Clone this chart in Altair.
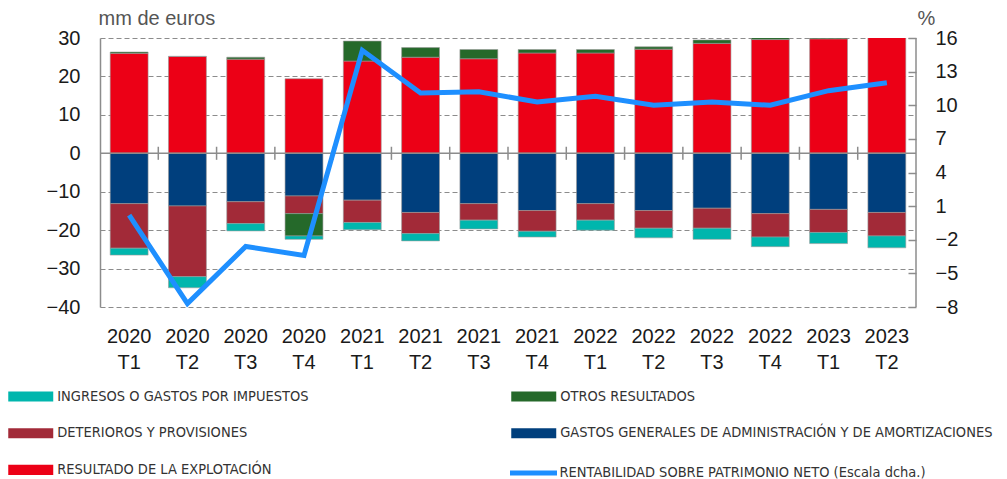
import altair as alt
import pandas as pd

categorias = ["2020 T1", "2020 T2", "2020 T3", "2020 T4",
              "2021 T1", "2021 T2", "2021 T3", "2021 T4",
              "2022 T1", "2022 T2", "2022 T3", "2022 T4",
              "2023 T1", "2023 T2"]

resultado = [26.0, 25.2, 24.5, 19.4, 24.0, 25.0, 24.6, 26.1, 26.1, 27.1, 28.6, 29.6, 29.8, 31.0]
otros = [0.35, 0.0, 0.5, -5.8, 5.2, 2.5, 2.4, 0.9, 0.9, 0.6, 0.9, 0.5, 0.3, 0.0]
gastos = [-13.1, -13.7, -12.6, -11.1, -12.2, -15.4, -13.1, -14.9, -13.1, -14.9, -14.3, -15.7, -14.6, -15.4]
deterioros = [-11.6, -18.4, -5.7, -4.6, -5.8, -5.5, -4.3, -5.4, -4.3, -4.6, -5.2, -6.1, -6.0, -6.1]
impuestos = [-1.8, -2.9, -1.9, -0.9, -1.9, -1.9, -2.3, -1.5, -2.6, -2.5, -2.9, -2.5, -2.9, -3.1]
rentabilidad = [0.2, -7.7, -2.6, -3.4, 14.9, 11.1, 11.2, 10.3, 10.8, 10.0, 10.3, 10.0, 11.3, 12.0]

S_IMP = "INGRESOS O GASTOS POR IMPUESTOS"
S_OTR = "OTROS RESULTADOS"
S_DET = "DETERIOROS Y PROVISIONES"
S_GAS = "GASTOS GENERALES DE ADMINISTRACIÓN Y DE AMORTIZACIONES"
S_RES = "RESULTADO DE LA EXPLOTACIÓN"
S_ROE = "RENTABILIDAD SOBRE PATRIMONIO NETO (Escala dcha.)"

left_ticks = [-40, -30, -20, -10, 0, 10, 20, 30]
right_ticks = [-8, -5, -2, 1, 4, 7, 10, 13, 16]

series = [(S_RES, resultado, 0), (S_GAS, gastos, 1), (S_DET, deterioros, 2),
          (S_OTR, otros, 3), (S_IMP, impuestos, 4)]
rows = []
for name, vals, orden in series:
    for c, v in zip(categorias, vals):
        rows.append({"cat": c, "serie": name, "valor": v, "orden": orden})
bars_df = pd.DataFrame(rows)

line_df = pd.DataFrame({"cat": categorias, "roe": rentabilidad, "serie": S_ROE})

FONT = "Liberation Sans"
NARROW = "Liberation Sans Narrow, DejaVu Sans Condensed, sans-serif"
GRAY = "#8c8c8c"

x_scale = alt.Scale(paddingInner=0.35, paddingOuter=0.175)
x_axis = alt.Axis(title=None, labelAngle=0, domain=False, ticks=False, grid=False,
                  labelExpr="split(datum.label, ' ')", labelFont=FONT, labelFontSize=20,
                  labelColor="#1a1a1a", labelLineHeight=26, labelPadding=19,
                  labelBaseline="top")

y_scale = alt.Scale(domain=[-40, 30], nice=False, zero=False)
y_axis = alt.Axis(values=left_ticks, title="mm de euros", titleAngle=0, titleAlign="left",
                  titleBaseline="middle", titleX=-2, titleY=-20, titleFont=FONT,
                  titleFontSize=20, titleFontWeight="normal", titleColor="#555555",
                  labelFont=FONT, labelFontSize=20, labelColor="#1a1a1a", labelPadding=20,
                  ticks=False, domainColor=GRAY, domainWidth=1.5,
                  grid=True, gridColor=GRAY, gridDash=[5, 3], gridWidth=1)

bars = alt.Chart(bars_df).mark_bar(clip=True, stroke="#9a9a9a", strokeWidth=0.6).encode(
    x=alt.X("cat:N", sort=categorias, scale=x_scale, axis=x_axis),
    y=alt.Y("valor:Q", stack="zero", scale=y_scale, axis=y_axis),
    color=alt.Color("serie:N",
                    scale=alt.Scale(domain=[S_IMP, S_DET, S_RES, S_OTR, S_GAS],
                                    range=["#00B6AD", "#A22A38", "#EC0016", "#25692A", "#003F7D"]),
                    legend=alt.Legend(title=None, orient="none", legendX=-80.75, legendY=347,
                                      columns=2, symbolType="M-2,-0.45H2V0.45H-2Z",
                                      symbolSize=506, symbolStrokeWidth=0,
                                      labelOffset=15, labelFont=NARROW, labelFontSize=14.5,
                                      labelColor="#333333", labelLimit=700,
                                      columnPadding=202, rowPadding=18.7)),
    order=alt.Order("orden:Q"),
)

zero_df = pd.DataFrame({"valor": [0]})
zero_rule = alt.Chart(zero_df).mark_rule(color=GRAY, strokeWidth=1.5).encode(
    y=alt.Y("valor:Q", scale=y_scale, axis=y_axis)
)

ticks_df = pd.DataFrame({"cat": categorias[1:], "valor": -1.7, "hi": 1.7})
tick_rules = alt.Chart(ticks_df).mark_rule(color=GRAY, strokeWidth=1.5, xOffset=-10.2).encode(
    x=alt.X("cat:N", sort=categorias, scale=x_scale, axis=x_axis, bandPosition=0),
    y=alt.Y("valor:Q", scale=y_scale, axis=y_axis),
    y2="hi:Q",
)

border_df = pd.DataFrame({"cat": [categorias[-1]], "valor": [-40], "hi": [30]})
border = alt.Chart(border_df).mark_rule(color=GRAY, strokeWidth=1.5, xOffset=10.2).encode(
    x=alt.X("cat:N", sort=categorias, scale=x_scale, axis=x_axis, bandPosition=1),
    y=alt.Y("valor:Q", scale=y_scale, axis=y_axis),
    y2="hi:Q",
)

left = alt.layer(bars, zero_rule, tick_rules, border)

line = alt.Chart(line_df).mark_line(strokeWidth=5, strokeJoin="miter").encode(
    x=alt.X("cat:N", sort=categorias, scale=x_scale, axis=x_axis),
    y=alt.Y("roe:Q", scale=alt.Scale(domain=[-8, 16], nice=False, zero=False),
            axis=alt.Axis(orient="right", values=right_ticks, offset=-8, domain=False,
                          ticks=True, tickSize=8, tickColor=GRAY, tickWidth=1.5, grid=False,
                          labelFont=FONT, labelFontSize=20, labelColor="#1a1a1a",
                          labelPadding=19, title="%", titleAngle=0, titleAlign="center",
                          titleBaseline="middle", titleX=18, titleY=-20, titleFont=FONT,
                          titleFontSize=20, titleFontWeight="normal", titleColor="#555555")),
    stroke=alt.Stroke("serie:N", scale=alt.Scale(domain=[S_ROE], range=["#1E8FFF"]),
                      legend=alt.Legend(title=None, orient="none", legendX=419, legendY=420.5,
                                        symbolType="M-2,0H2", symbolSize=552,
                                        symbolStrokeWidth=5, labelOffset=11.5,
                                        labelFont=NARROW, labelFontSize=14.5,
                                        labelColor="#333333", labelLimit=700)),
)

chart = alt.layer(left, line).resolve_scale(y="independent").properties(
    width=816, height=269,
    padding={"left": 92, "top": 30, "right": 83, "bottom": 172},
    autosize="none",
).configure_view(stroke=None)

chart.save("out.html", embed_options={"renderer": "svg", "actions": False})
